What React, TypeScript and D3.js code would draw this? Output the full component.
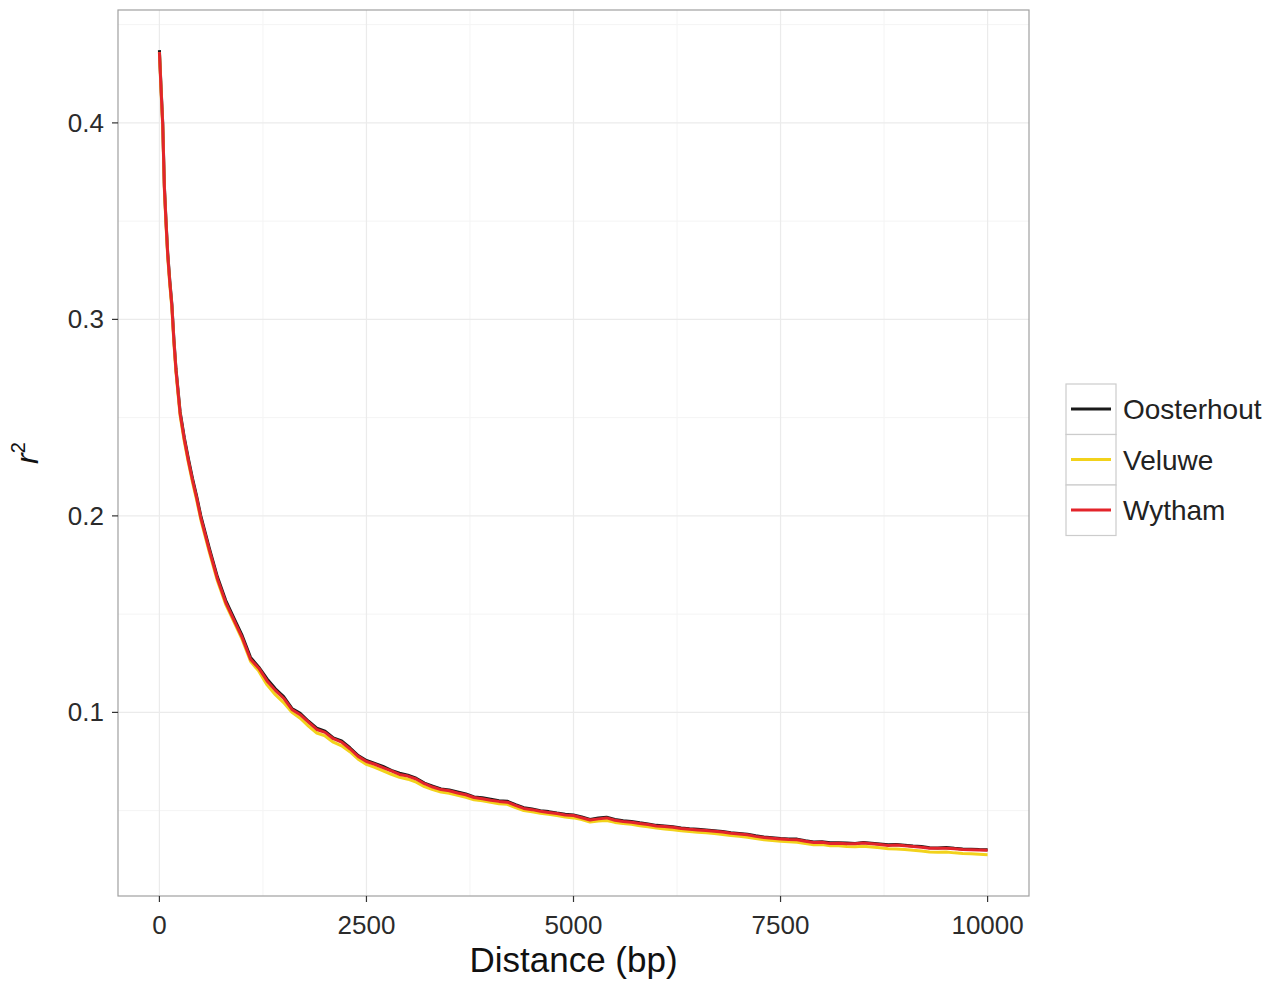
import React from "react";
import * as d3 from "d3";

const distances = [
  0, 20, 40, 60, 80, 100, 125, 150, 175, 200, 250, 300, 350, 400, 450, 500, 600, 700, 800, 900,
  1000, 1100, 1200, 1300, 1400, 1500, 1600, 1700, 1800, 1900, 2000, 2100, 2200, 2300, 2400, 2500,
  2600, 2700, 2800, 2900, 3000, 3100, 3200, 3300, 3400, 3500, 3600, 3700, 3800, 3900, 4000, 4100,
  4200, 4300, 4400, 4500, 4600, 4700, 4800, 4900, 5000, 5100, 5200, 5300, 5400, 5500, 5600, 5700,
  5800, 5900, 6000, 6100, 6200, 6300, 6400, 6500, 6600, 6700, 6800, 6900, 7000, 7100, 7200, 7300,
  7400, 7500, 7600, 7700, 7800, 7900, 8000, 8100, 8200, 8300, 8400, 8500, 8600, 8700, 8800, 8900,
  9000, 9100, 9200, 9300, 9400, 9500, 9600, 9700, 9800, 9900, 10000,
];

const oosterhout = [
  0.437, 0.418, 0.4, 0.368, 0.35, 0.334, 0.32, 0.308, 0.29, 0.275, 0.253, 0.24, 0.229, 0.219, 0.21, 0.2, 0.184, 0.169, 0.157, 0.148,
  0.139, 0.128, 0.123, 0.117, 0.112, 0.108, 0.102, 0.0995, 0.0955, 0.092, 0.0905, 0.087, 0.0855, 0.082, 0.078, 0.0755,
  0.074, 0.0725, 0.0705, 0.069, 0.068, 0.0665, 0.064, 0.0625, 0.061, 0.0605, 0.0595, 0.0585, 0.057, 0.0565, 0.0558, 0.055,
  0.0548, 0.053, 0.0515, 0.0508, 0.05, 0.0495, 0.0488, 0.0482, 0.0478, 0.0468, 0.0455, 0.0462, 0.0466, 0.0455, 0.0448, 0.0445,
  0.0438, 0.0432, 0.0425, 0.0422, 0.0418, 0.0412, 0.0408, 0.0405, 0.0402, 0.0398, 0.0394, 0.0388, 0.0384, 0.038, 0.0372, 0.0366,
  0.0362, 0.0358, 0.0356, 0.0355, 0.0347, 0.034, 0.0342, 0.0336, 0.0337, 0.0335, 0.0333, 0.0338, 0.0334, 0.033, 0.0326, 0.0327,
  0.0324, 0.032, 0.0317, 0.0311, 0.031, 0.0312, 0.0308, 0.0305, 0.0304, 0.0302, 0.0301,
];

const veluwe = [
  0.436, 0.416, 0.398, 0.366, 0.348, 0.332, 0.318, 0.306, 0.288, 0.273, 0.251, 0.238, 0.227, 0.217, 0.208, 0.198, 0.182, 0.167, 0.155, 0.146,
  0.137, 0.126, 0.121, 0.114, 0.109, 0.105, 0.1, 0.097, 0.093, 0.0895, 0.088, 0.0848, 0.083, 0.08, 0.0762, 0.0735,
  0.072, 0.0703, 0.0685, 0.067, 0.066, 0.0645, 0.0622, 0.0607, 0.0595, 0.0588, 0.0578, 0.0568, 0.0555, 0.055, 0.0542, 0.0535,
  0.0532, 0.0515, 0.05, 0.0494, 0.0487, 0.0482, 0.0475, 0.0468, 0.0463, 0.0455, 0.0442, 0.0447, 0.045, 0.044, 0.0434, 0.043,
  0.0423, 0.0418, 0.0411, 0.0407, 0.0403, 0.0398, 0.0394, 0.039, 0.0387, 0.0383, 0.0379, 0.0373, 0.0369, 0.0365, 0.0358, 0.0352,
  0.0348, 0.0344, 0.0341, 0.0339, 0.0332, 0.0326, 0.0327, 0.0321, 0.0321, 0.0318, 0.0316, 0.0319, 0.0315, 0.0311, 0.0306, 0.0305,
  0.0302, 0.0298, 0.0295, 0.029, 0.0288, 0.0289, 0.0285, 0.0282, 0.028, 0.0278, 0.0276,
];

const wytham = [
  0.436, 0.417, 0.399, 0.367, 0.349, 0.333, 0.319, 0.307, 0.289, 0.274, 0.252, 0.239, 0.228, 0.218, 0.209, 0.199, 0.183, 0.168, 0.156, 0.147,
  0.138, 0.127, 0.1225, 0.116, 0.1112, 0.1072, 0.1015, 0.0988, 0.095, 0.0913, 0.0898, 0.0866, 0.0849, 0.0815, 0.0776, 0.075,
  0.0736, 0.0719, 0.0702, 0.0684, 0.0676, 0.0661, 0.0637, 0.062, 0.0607, 0.0601, 0.059, 0.0581, 0.0567, 0.056, 0.0553, 0.0547,
  0.0543, 0.0527, 0.0511, 0.0505, 0.0497, 0.0491, 0.0485, 0.0478, 0.0475, 0.0464, 0.0452, 0.0458, 0.0463, 0.0451, 0.0445, 0.0441,
  0.0435, 0.0429, 0.0422, 0.0419, 0.0415, 0.0409, 0.0405, 0.0402, 0.0399, 0.0395, 0.0391, 0.0385, 0.0381, 0.0377, 0.0369, 0.0363,
  0.0359, 0.0356, 0.0353, 0.0352, 0.0344, 0.0338, 0.0339, 0.0333, 0.0334, 0.0332, 0.0331, 0.0335, 0.0331, 0.0327, 0.0323, 0.0325,
  0.0321, 0.0318, 0.0314, 0.0309, 0.0308, 0.0309, 0.0306, 0.0302, 0.0301, 0.03, 0.0298,
];

const seriesNames = ["Oosterhout", "Veluwe", "Wytham"];
const seriesColors = ["#1a1a1a", "#f2d21b", "#e3242b"];
const seriesValues = [oosterhout, veluwe, wytham];

const xTicks = [0, 2500, 5000, 7500, 10000];
const xMinor = [1250, 3750, 6250, 8750];
const yTicks = [0.1, 0.2, 0.3, 0.4];
const yMinor = [0.05, 0.15, 0.25, 0.35, 0.45];

export default function App() {
  const W = 1283;
  const H = 982;
  const left = 118, right = 1029, top = 10, bottom = 896;

  const x = d3.scaleLinear().domain([-500, 10500]).range([left, right]);
  const y = d3.scaleLinear().domain([0.00655, 0.45745]).range([bottom, top]);

  const line = d3
    .line<number>()
    .x((_, i) => x(distances[i]))
    .y((v) => y(v));

  const font = "'Liberation Sans', Arial, Helvetica, sans-serif";

  return (
    <svg
      width={W}
      height={H}
      style={{ position: "absolute", left: 0, top: 0, background: "#fff" }}
      fontFamily={font}
    >
      <rect x={0} y={0} width={W} height={H} fill="#fff" />
      {/* minor grid */}
      {xMinor.map((t) => (
        <line key={"xm" + t} x1={x(t)} x2={x(t)} y1={top} y2={bottom} stroke="#f4f4f4" strokeWidth={1} />
      ))}
      {yMinor.map((t) => (
        <line key={"ym" + t} x1={left} x2={right} y1={y(t)} y2={y(t)} stroke="#f4f4f4" strokeWidth={1} />
      ))}
      {/* major grid */}
      {xTicks.map((t) => (
        <line key={"xg" + t} x1={x(t)} x2={x(t)} y1={top} y2={bottom} stroke="#ebebeb" strokeWidth={1.2} />
      ))}
      {yTicks.map((t) => (
        <line key={"yg" + t} x1={left} x2={right} y1={y(t)} y2={y(t)} stroke="#ebebeb" strokeWidth={1.2} />
      ))}

      {/* series */}
      {seriesValues.map((vals, i) => (
        <path
          key={seriesNames[i]}
          d={line(vals) || ""}
          fill="none"
          stroke={seriesColors[i]}
          strokeWidth={3}
          strokeLinejoin="round"
          strokeLinecap="butt"
        />
      ))}

      {/* panel border */}
      <rect x={left} y={top} width={right - left} height={bottom - top} fill="none" stroke="#a0a0a0" strokeWidth={1.2} />

      {/* x axis ticks */}
      {xTicks.map((t) => (
        <g key={"xt" + t}>
          <line x1={x(t)} x2={x(t)} y1={bottom} y2={bottom + 6} stroke="#333" strokeWidth={1.2} />
          <text x={x(t)} y={bottom + 38} textAnchor="middle" fontSize={26} fill="#2b2b2b">
            {t}
          </text>
        </g>
      ))}
      {/* y axis ticks */}
      {yTicks.map((t) => (
        <g key={"yt" + t}>
          <line x1={left - 6} x2={left} y1={y(t)} y2={y(t)} stroke="#333" strokeWidth={1.2} />
          <text x={left - 14} y={y(t) + 9} textAnchor="end" fontSize={26} fill="#2b2b2b">
            {t.toFixed(1)}
          </text>
        </g>
      ))}

      {/* axis titles */}
      <text x={(left + right) / 2} y={972} textAnchor="middle" fontSize={35} fill="#111">
        Distance (bp)
      </text>
      <text
        transform={`translate(38, ${(top + bottom) / 2}) rotate(-90)`}
        textAnchor="middle"
        fontSize={32}
        fontStyle="italic"
        fill="#111"
      >
        r
        <tspan fontSize={20} dy={-13} fontStyle="normal">2</tspan>
      </text>

      {/* legend */}
      {seriesNames.map((name, i) => {
        const ky = 384 + i * 50.5;
        return (
          <g key={"lg" + name}>
            <rect x={1066} y={ky} width={50} height={50.5} fill="#fff" stroke="#cccccc" strokeWidth={1.2} />
            <line x1={1071} x2={1111} y1={ky + 25} y2={ky + 25} stroke={seriesColors[i]} strokeWidth={3} />
            <text x={1123} y={ky + 35} fontSize={28} fill="#222">
              {name}
            </text>
          </g>
        );
      })}
    </svg>
  );
}
